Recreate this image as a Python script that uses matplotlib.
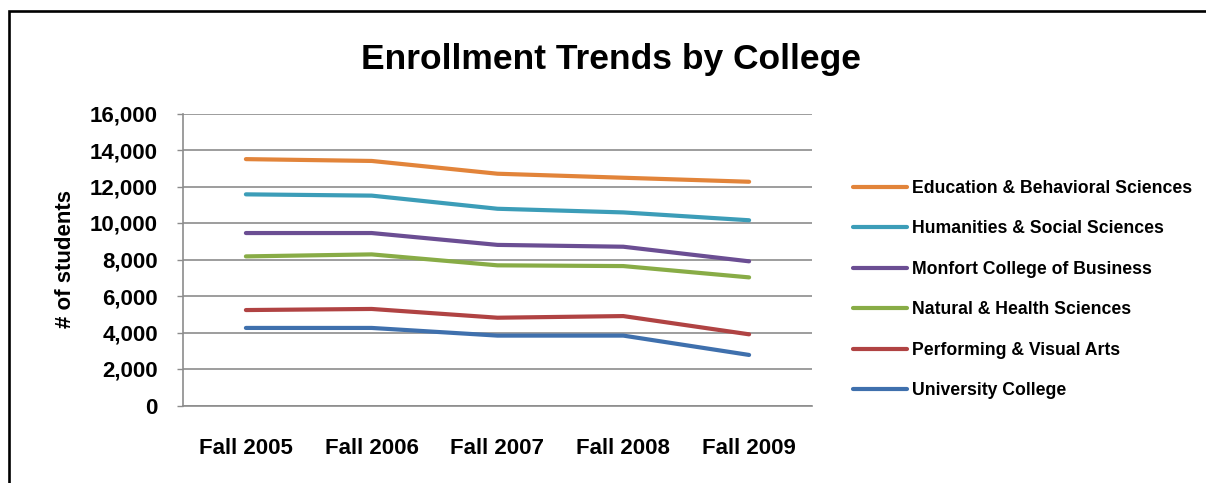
import matplotlib
matplotlib.use("Agg")
import matplotlib.pyplot as plt
from matplotlib import font_manager
from matplotlib.patches import Rectangle
from matplotlib.ticker import FuncFormatter, MultipleLocator

years = ["Fall 2005", "Fall 2006", "Fall 2007", "Fall 2008", "Fall 2009"]
education = [13500, 13400, 12700, 12480, 12260]
humanities = [11570, 11500, 10780, 10580, 10150]
monfort = [9450, 9450, 8800, 8700, 7900]
natural = [8170, 8280, 7680, 7640, 7020]
performing = [5230, 5290, 4810, 4900, 3900]
university = [4250, 4250, 3830, 3830, 2770]

series_names = ["Education & Behavioral Sciences", "Humanities & Social Sciences",
                "Monfort College of Business", "Natural & Health Sciences",
                "Performing & Visual Arts", "University College"]
series_values = [education, humanities, monfort, natural, performing, university]
colors = ["#E2843A", "#3C9DB8", "#6B4E93", "#88AC46", "#B04343", "#3F70AD"]

names = {f.name for f in font_manager.fontManager.ttflist}
base = "Liberation Sans" if "Liberation Sans" in names else "DejaVu Sans"

fig = plt.figure(figsize=(12.06, 4.83), dpi=100)
ax = fig.add_axes([183/1206, 1-405.5/483, (812-183)/1206, (405.5-113.5)/483])

x = list(range(len(years)))
lines = []
for name, vals, c in zip(series_names, series_values, colors):
    ln, = ax.plot(x, vals, color=c, lw=3.0, solid_capstyle="round", label=name)
    lines.append(ln)

ax.set_xlim(-0.5, 4.5)
ax.set_ylim(0, 16000)
ax.yaxis.set_major_locator(MultipleLocator(2000))
ax.yaxis.set_major_formatter(FuncFormatter(lambda v, p: f"{int(v):,}"))
ax.set_xticks(x)
ax.set_xticklabels(years, fontfamily=base, fontweight="bold", fontsize=16)
for lab in ax.get_yticklabels():
    lab.set_fontfamily(base)
    lab.set_fontweight("bold")
    lab.set_fontsize(16)
ax.tick_params(axis="y", length=4, width=1, color="#8c8c8c", pad=14)
ax.tick_params(axis="x", length=0, pad=23.5)
ax.grid(axis="y", color="#8c8c8c", lw=1.2)
ax.set_axisbelow(True)
for s in ["top", "right"]:
    ax.spines[s].set_visible(False)
for s in ["left", "bottom"]:
    ax.spines[s].set_color("#8c8c8c")
    ax.spines[s].set_linewidth(1.2)

ax.set_ylabel("# of students", fontfamily=base, fontweight="bold", fontsize=16, labelpad=10)

fig.text(611/1206, 1-60/483, "Enrollment Trends by College", fontfamily=base,
         fontweight="bold", fontsize=25.5, ha="center", va="center")

leg = fig.legend(handles=lines, loc="upper left", bbox_to_anchor=(853/1206, 1-180/483),
                 frameon=False, borderpad=0, borderaxespad=0, handlelength=3.07,
                 handletextpad=0.28, labelspacing=1.33,
                 prop={"family": base, "weight": "bold", "size": 12.7})

fig.patches.append(Rectangle((8.5/1206, -0.1), 1.2, 1.1 - 11.5/483, transform=fig.transFigure,
                             fill=False, edgecolor="black", lw=1.9))

fig.savefig("out.png", dpi=100)
